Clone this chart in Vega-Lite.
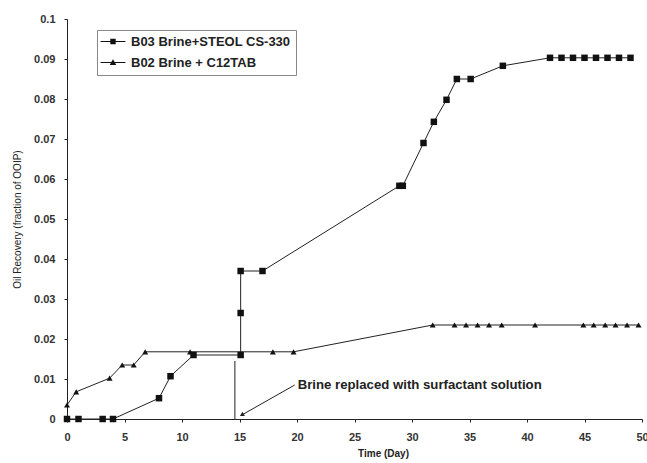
{
  "$schema": "https://vega.github.io/schema/vega-lite/v6.json",
  "autosize": {"type": "none"},
  "padding": {"left": 67, "top": 19, "right": 5, "bottom": 44},
  "width": 575,
  "height": 400,
  "background": "white",
  "config": {
    "view": {"stroke": null},
    "font": "Liberation Sans",
    "axis": {"grid": false, "domainColor": "#222", "tickColor": "#222", "tickSize": 3, "labelFont": "Liberation Sans", "labelFontSize": 11, "labelFontWeight": "bold", "labelColor": "#333", "titleFont": "Liberation Sans", "titleColor": "#222", "labelOverlap": false, "labelFlush": false}
  },
  "datasets": {
    "obs": [
      {"series": "B03 Brine+STEOL CS-330", "day": 0, "rec": 0},
      {"series": "B03 Brine+STEOL CS-330", "day": 1, "rec": 0},
      {"series": "B03 Brine+STEOL CS-330", "day": 3.1, "rec": 0},
      {"series": "B03 Brine+STEOL CS-330", "day": 4, "rec": 0},
      {"series": "B03 Brine+STEOL CS-330", "day": 8, "rec": 0.0052},
      {"series": "B03 Brine+STEOL CS-330", "day": 9, "rec": 0.0107},
      {"series": "B03 Brine+STEOL CS-330", "day": 11, "rec": 0.016},
      {"series": "B03 Brine+STEOL CS-330", "day": 15.1, "rec": 0.016},
      {"series": "B03 Brine+STEOL CS-330", "day": 15.1, "rec": 0.0265},
      {"series": "B03 Brine+STEOL CS-330", "day": 15.1, "rec": 0.037},
      {"series": "B03 Brine+STEOL CS-330", "day": 17, "rec": 0.037},
      {"series": "B03 Brine+STEOL CS-330", "day": 28.9, "rec": 0.0583},
      {"series": "B03 Brine+STEOL CS-330", "day": 29.2, "rec": 0.0583},
      {"series": "B03 Brine+STEOL CS-330", "day": 31, "rec": 0.069},
      {"series": "B03 Brine+STEOL CS-330", "day": 31.9, "rec": 0.0743},
      {"series": "B03 Brine+STEOL CS-330", "day": 33, "rec": 0.0798},
      {"series": "B03 Brine+STEOL CS-330", "day": 33.9, "rec": 0.085},
      {"series": "B03 Brine+STEOL CS-330", "day": 35.1, "rec": 0.085},
      {"series": "B03 Brine+STEOL CS-330", "day": 37.9, "rec": 0.0883},
      {"series": "B03 Brine+STEOL CS-330", "day": 42, "rec": 0.0903},
      {"series": "B03 Brine+STEOL CS-330", "day": 43, "rec": 0.0903},
      {"series": "B03 Brine+STEOL CS-330", "day": 44, "rec": 0.0903},
      {"series": "B03 Brine+STEOL CS-330", "day": 45, "rec": 0.0903},
      {"series": "B03 Brine+STEOL CS-330", "day": 46, "rec": 0.0903},
      {"series": "B03 Brine+STEOL CS-330", "day": 47, "rec": 0.0903},
      {"series": "B03 Brine+STEOL CS-330", "day": 48, "rec": 0.0903},
      {"series": "B03 Brine+STEOL CS-330", "day": 49, "rec": 0.0903},
      {"series": "B02 Brine + C12TAB", "day": 0, "rec": 0.0035},
      {"series": "B02 Brine + C12TAB", "day": 0.8, "rec": 0.0068},
      {"series": "B02 Brine + C12TAB", "day": 3.7, "rec": 0.0102},
      {"series": "B02 Brine + C12TAB", "day": 4.8, "rec": 0.0135},
      {"series": "B02 Brine + C12TAB", "day": 5.8, "rec": 0.0135},
      {"series": "B02 Brine + C12TAB", "day": 6.8, "rec": 0.0168},
      {"series": "B02 Brine + C12TAB", "day": 10.7, "rec": 0.0168},
      {"series": "B02 Brine + C12TAB", "day": 17.9, "rec": 0.0168},
      {"series": "B02 Brine + C12TAB", "day": 19.7, "rec": 0.0168},
      {"series": "B02 Brine + C12TAB", "day": 31.8, "rec": 0.0235},
      {"series": "B02 Brine + C12TAB", "day": 33.7, "rec": 0.0235},
      {"series": "B02 Brine + C12TAB", "day": 34.7, "rec": 0.0235},
      {"series": "B02 Brine + C12TAB", "day": 35.7, "rec": 0.0235},
      {"series": "B02 Brine + C12TAB", "day": 36.7, "rec": 0.0235},
      {"series": "B02 Brine + C12TAB", "day": 37.8, "rec": 0.0235},
      {"series": "B02 Brine + C12TAB", "day": 40.7, "rec": 0.0235},
      {"series": "B02 Brine + C12TAB", "day": 44.9, "rec": 0.0235},
      {"series": "B02 Brine + C12TAB", "day": 45.8, "rec": 0.0235},
      {"series": "B02 Brine + C12TAB", "day": 46.8, "rec": 0.0235},
      {"series": "B02 Brine + C12TAB", "day": 47.7, "rec": 0.0235},
      {"series": "B02 Brine + C12TAB", "day": 48.7, "rec": 0.0235},
      {"series": "B02 Brine + C12TAB", "day": 49.7, "rec": 0.0235}
    ],
    "note": [
      {"label": "Brine replaced with surfactant solution", "x1": 19.8, "y1": 0.0085, "x2": 15.2, "y2": 0.001, "vx": 14.6, "vy1": 0, "vy2": 0.0145}
    ]
  },
  "layer": [
    {
      "data": {"name": "obs"},
      "mark": {"type": "line", "color": "#222", "strokeWidth": 1},
      "encoding": {
        "x": {"field": "day", "type": "quantitative", "scale": {"domain": [0, 50], "nice": false}, "axis": {"tickCount": 10, "title": "Time (Day)", "titleFontSize": 10, "titleFontWeight": "bold", "labelPadding": 9, "labelOverlap": false, "titleX": 316, "titleY": 37, "titleBaseline": "alphabetic"}},
        "y": {"field": "rec", "type": "quantitative", "scale": {"domain": [0, 0.1], "nice": false}, "axis": {"tickCount": 10, "labelExpr": "format(datum.value, '.2~f')", "title": "Oil Recovery (fraction of OOIP)", "titleFontSize": 10, "titleFontWeight": "normal", "labelPadding": 9, "labelOverlap": false, "labelSeparation": 0, "titleX": -45, "titleY": 200}},
        "detail": {"field": "series"},
        "order": [{"field": "rec", "type": "quantitative"}, {"field": "day", "type": "quantitative"}]
      }
    },
    {
      "data": {"name": "obs"},
      "transform": [{"filter": "datum.series === 'B03 Brine+STEOL CS-330'"}],
      "mark": {"type": "point", "shape": "square", "filled": true, "color": "#111", "opacity": 1, "size": 42},
      "encoding": {
        "x": {"field": "day", "type": "quantitative"},
        "y": {"field": "rec", "type": "quantitative"}
      }
    },
    {
      "data": {"name": "obs"},
      "transform": [{"filter": "datum.series === 'B02 Brine + C12TAB'"}],
      "mark": {"type": "point", "shape": "triangle-up", "filled": true, "color": "#111", "opacity": 1, "size": 36},
      "encoding": {
        "x": {"field": "day", "type": "quantitative"},
        "y": {"field": "rec", "type": "quantitative"}
      }
    },
    {
      "data": {"name": "obs"},
      "mark": {"type": "point", "filled": true, "color": "#111", "opacity": 0, "size": 1},
      "encoding": {
        "x": {"field": "day", "type": "quantitative"},
        "y": {"field": "rec", "type": "quantitative"},
        "shape": {"field": "series", "type": "nominal", "scale": {"domain": ["B03 Brine+STEOL CS-330", "B02 Brine + C12TAB"], "range": ["M-1.33,-0.085H2.83V0.085H-1.33ZM0.3,-0.45H1.2V0.45H0.3Z", "M-1.33,-0.085H2.83V0.085H-1.33ZM0.75,-0.55L1.3,0.4H0.2Z"]},
          "legend": {"title": null, "orient": "none", "legendX": 30, "legendY": 11, "direction": "vertical", "symbolSize": 144, "symbolOpacity": 1, "symbolFillColor": "#111", "symbolStrokeColor": "#111", "symbolStrokeWidth": 0, "labelFont": "Liberation Sans", "labelFontSize": 13, "labelFontWeight": "bold", "labelColor": "#222", "labelLimit": 300, "rowPadding": 7, "strokeColor": "#888", "padding": 5, "labelOffset": 16}}
      }
    },
    {
      "data": {"name": "note"},
      "mark": {"type": "rule", "color": "#222", "strokeWidth": 1},
      "encoding": {"x": {"field": "vx", "type": "quantitative"}, "y": {"field": "vy1", "type": "quantitative"}, "y2": {"field": "vy2"}}
    },
    {
      "data": {"name": "note"},
      "mark": {"type": "rule", "color": "#222", "strokeWidth": 1},
      "encoding": {"x": {"field": "x1", "type": "quantitative"}, "y": {"field": "y1", "type": "quantitative"}, "x2": {"field": "x2"}, "y2": {"field": "y2"}}
    },
    {
      "data": {"name": "note"},
      "mark": {"type": "point", "shape": "triangle-up", "filled": true, "color": "#222", "size": 25, "angle": 240, "opacity": 1},
      "encoding": {"x": {"field": "x2", "type": "quantitative"}, "y": {"field": "y2", "type": "quantitative"}}
    },
    {
      "data": {"name": "note"},
      "mark": {"type": "text", "align": "left", "baseline": "middle", "dx": 3, "fontSize": 13.2, "fontWeight": "bold", "color": "#222", "font": "Liberation Sans"},
      "encoding": {"x": {"field": "x1", "type": "quantitative"}, "y": {"field": "y1", "type": "quantitative"}, "text": {"field": "label"}}
    }
  ]
}
